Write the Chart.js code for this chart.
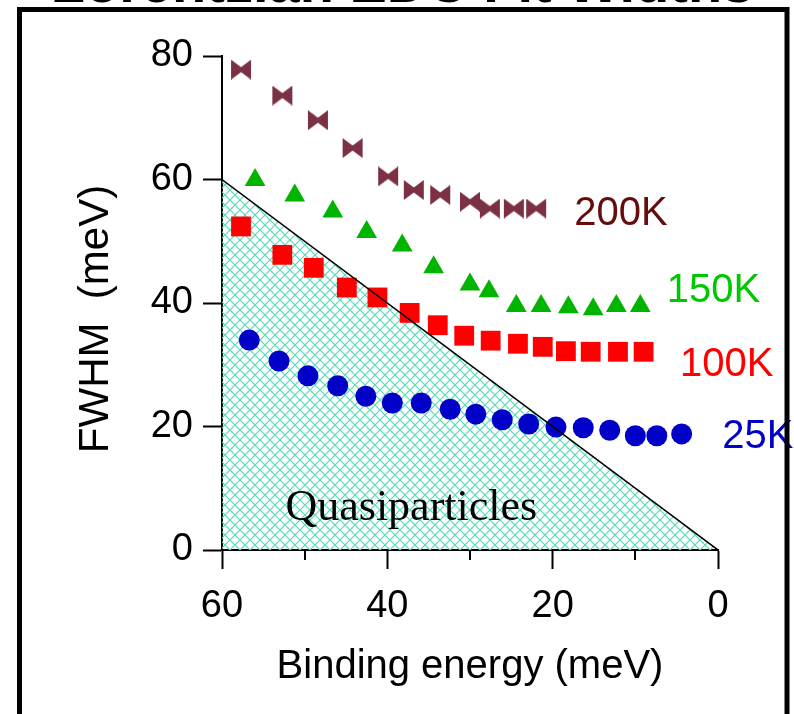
<!DOCTYPE html>
<html>
<head>
<meta charset="utf-8">
<script src="https://cdn.jsdelivr.net/npm/chart.js@4.4.1/dist/chart.umd.min.js"></script>
<style>
  html, body { margin: 0; padding: 0; background: #fff; }
  canvas { display: block; }
</style>
</head>
<body>
<canvas id="chart" width="794" height="714"></canvas>
<script>
// Binding energy (meV) and FWHM (meV) for each temperature
const be200 = [57.7, 52.7, 48.4, 44.2, 39.9, 36.8, 33.6, 30.0, 27.6, 24.7, 22.0];
const fw200 = [77.8, 73.6, 69.6, 65.1, 60.5, 58.3, 57.5, 56.4, 55.3, 55.3, 55.3];
const be150 = [56.0, 51.2, 46.6, 42.5, 38.2, 34.4, 30.0, 27.7, 24.4, 21.4, 18.1, 15.1, 12.3, 9.4];
const fw150 = [59.9, 57.4, 54.8, 51.5, 49.3, 45.8, 43.0, 41.9, 39.5, 39.5, 39.3, 39.0, 39.5, 39.5];
const be100 = [57.7, 52.7, 48.9, 44.9, 41.2, 37.3, 33.9, 30.7, 27.5, 24.2, 21.2, 18.4, 15.4, 12.1, 9.0];
const fw100 = [52.4, 47.8, 45.7, 42.5, 40.9, 38.4, 36.4, 34.7, 33.9, 33.4, 32.9, 32.2, 32.1, 32.1, 32.1];
const be25 = [56.7, 53.1, 49.6, 46.0, 42.6, 39.4, 35.9, 32.4, 29.3, 26.1, 22.9, 19.6, 16.3, 13.1, 10.0, 7.4, 4.4];
const fw25 = [34.0, 30.6, 28.2, 26.6, 24.9, 23.8, 23.8, 22.8, 22.0, 21.1, 20.4, 19.9, 19.8, 19.4, 18.5, 18.5, 18.8];

// Quasiparticle boundary: FWHM equal to binding energy
const boundaryBE = [60, 0];
const boundaryFW = [60, 0];

const seriesNames = ['200K', '150K', '100K', '25K'];
const xMajorTicks = [60, 40, 20, 0];
const xMinorTicks = [50, 30, 10];
const yTicks = [0, 20, 40, 60, 80];
const headerText = 'Lorentzian EDC Fit Widths';
const regionText = 'Quasiparticles';
const xTitle = 'Binding energy (meV)';
const yTitle = 'FWHM  (meV)';

const toPoints = (xs, ys) => xs.map((x, i) => ({ x: x, y: ys[i] }));

// cross-hatch fill for the quasiparticle region
function hatchPattern() {
  const s = 10;
  const c = document.createElement('canvas');
  c.width = s; c.height = s;
  const g = c.getContext('2d');
  g.strokeStyle = '#58d9bb';
  g.lineWidth = 1.2;
  g.beginPath();
  g.moveTo(0, 0); g.lineTo(s, s);
  g.moveTo(s, 0); g.lineTo(0, s);
  g.stroke();
  return g.createPattern(c, 'repeat');
}

// bow-tie marker
function bowTie(color) {
  const w = 22, h = 20;
  const c = document.createElement('canvas');
  c.width = w; c.height = h;
  const g = c.getContext('2d');
  g.fillStyle = color;
  g.beginPath();
  g.moveTo(1, 0);
  g.lineTo(w / 2, h / 2 - 2.5);
  g.lineTo(w - 1, 0);
  g.lineTo(w - 1, h);
  g.lineTo(w / 2, h / 2 + 2.5);
  g.lineTo(1, h);
  g.closePath();
  g.fill();
  return c;
}

const FONT = '"Liberation Sans", Arial, sans-serif';

// series captions placed next to each set of markers (data units)
const captions = [
  { text: seriesNames[0], x: 17.4, y: 54.4, color: '#650c0c' },
  { text: seriesNames[1], x: 6.2, y: 41.9, color: '#00c800' },
  { text: seriesNames[2], x: 4.6, y: 30.0, color: '#ff0000' },
  { text: seriesNames[3], x: -0.5, y: 18.3, color: '#0000c8' }
];

const decorations = {
  id: 'decorations',
  afterDraw(chart) {
    const ctx = chart.ctx;
    const xs = chart.scales.x, ys = chart.scales.y;
    ctx.save();

    // minor ticks on the energy axis
    ctx.strokeStyle = '#000';
    ctx.lineWidth = 2;
    const base = chart.chartArea.bottom;
    xMinorTicks.forEach(v => {
      const px = Math.round(xs.getPixelForValue(v));
      ctx.beginPath();
      ctx.moveTo(px, base);
      ctx.lineTo(px, base + 10);
      ctx.stroke();
    });

    // series captions
    ctx.font = '40px ' + FONT;
    ctx.textAlign = 'left';
    ctx.textBaseline = 'middle';
    captions.forEach(c => {
      ctx.fillStyle = c.color;
      ctx.fillText(c.text, xs.getPixelForValue(c.x), ys.getPixelForValue(c.y));
    });

    // region label
    ctx.font = '44px "Liberation Serif", "Times New Roman", serif';
    ctx.fillStyle = '#000';
    ctx.textAlign = 'center';
    ctx.textBaseline = 'alphabetic';
    ctx.fillText(regionText, xs.getPixelForValue(37.1), ys.getPixelForValue(4.9));

    // axis titles
    ctx.font = '40px ' + FONT;
    ctx.textBaseline = 'middle';
    ctx.fillText(xTitle, 470, 667);
    ctx.save();
    ctx.translate(96, 319);
    ctx.rotate(-Math.PI / 2);
    ctx.font = '42px ' + FONT;
    ctx.fillText(yTitle, 0, 0);
    ctx.restore();

    // header line running off the top edge
    ctx.font = 'bold 56px ' + FONT;
    ctx.textBaseline = 'alphabetic';
    ctx.fillText(headerText, 402, 2);

    // frame
    ctx.strokeStyle = '#000';
    ctx.lineWidth = 5;
    ctx.beginPath();
    ctx.moveTo(19.5, 720);
    ctx.lineTo(19.5, 9.5);
    ctx.lineTo(787, 9.5);
    ctx.lineTo(787, 720);
    ctx.stroke();
    ctx.restore();
  }
};

const ctx = document.getElementById('chart').getContext('2d');
new Chart(ctx, {
  type: 'scatter',
  data: {
    datasets: [
      {
        label: 'boundary',
        data: toPoints(boundaryBE, boundaryFW),
        showLine: true,
        borderColor: '#000',
        borderWidth: 1.5,
        backgroundColor: hatchPattern(),
        fill: 'origin',
        pointRadius: 0,
        order: -1
      },
      {
        label: seriesNames[0],
        data: toPoints(be200, fw200),
        pointStyle: bowTie('#7b3044'),
        pointRadius: 10,
        order: 1
      },
      {
        label: seriesNames[1],
        data: toPoints(be150, fw150),
        pointStyle: 'triangle',
        pointRadius: 12,
        backgroundColor: '#00b400',
        borderColor: '#00b400',
        borderWidth: 0,
        order: 2
      },
      {
        label: seriesNames[2],
        data: toPoints(be100, fw100),
        pointStyle: 'rect',
        pointRadius: 14,
        backgroundColor: '#ff0000',
        borderColor: '#ff0000',
        borderWidth: 0,
        order: 3
      },
      {
        label: seriesNames[3],
        data: toPoints(be25, fw25),
        pointStyle: 'circle',
        pointRadius: 10.5,
        backgroundColor: '#0000c8',
        borderColor: '#0000c8',
        borderWidth: 0,
        order: 4
      }
    ]
  },
  options: {
    responsive: false,
    animation: false,
    events: [],
    layout: { padding: { left: 0, right: 76, top: 56, bottom: 0 } },
    plugins: {
      legend: { display: false },
      tooltip: { enabled: false },
      filler: { drawTime: 'beforeDatasetsDraw' }
    },
    scales: {
      x: {
        type: 'linear',
        reverse: true,
        min: 0,
        max: 60,
        afterBuildTicks: s => { s.ticks = xMajorTicks.map(v => ({ value: v })); },
        afterFit: s => { s.height = 164; },
        border: { display: true, color: '#000', width: 2 },
        grid: { drawOnChartArea: false, drawTicks: true, tickLength: 19, tickWidth: 2, tickColor: '#000' },
        ticks: { color: '#000', font: { family: FONT, size: 38 }, padding: 15, maxRotation: 0 }
      },
      y: {
        type: 'linear',
        min: 0,
        max: 80,
        afterBuildTicks: s => { s.ticks = yTicks.map(v => ({ value: v })); },
        afterFit: s => { s.width = 222; },
        border: { display: true, color: '#000', width: 2 },
        grid: { drawOnChartArea: false, drawTicks: true, tickLength: 19, tickWidth: 2, tickColor: '#000' },
        ticks: { color: '#000', font: { family: FONT, size: 38 }, padding: 10 }
      }
    }
  },
  plugins: [decorations]
});
</script>
</body>
</html>
